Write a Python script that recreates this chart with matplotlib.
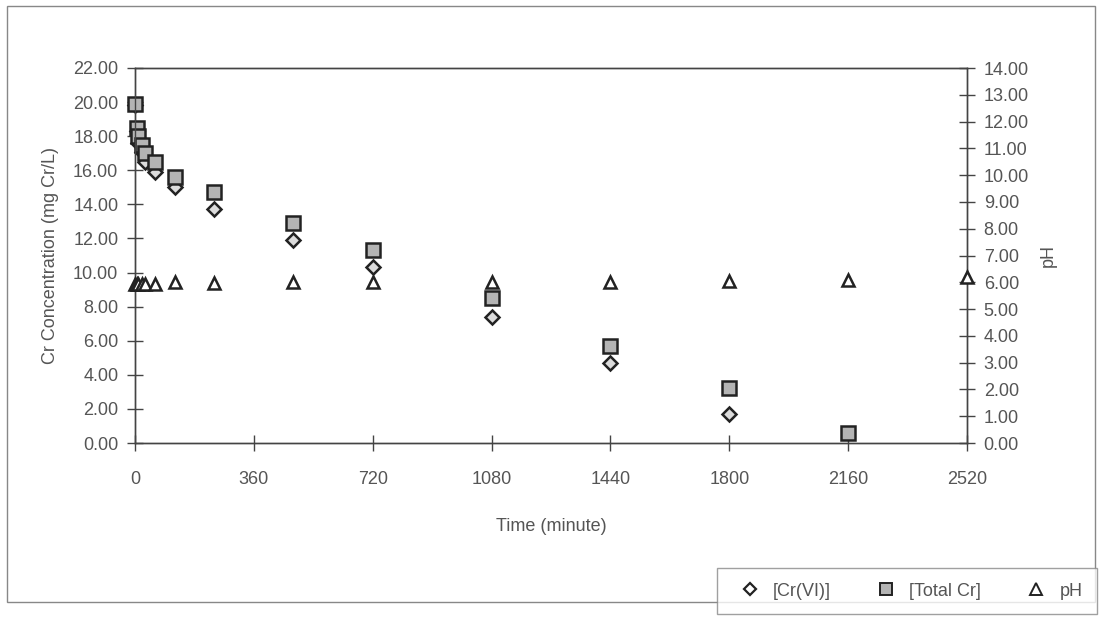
import matplotlib
matplotlib.use("Agg")
import matplotlib.pyplot as plt
from matplotlib.patches import Rectangle
from matplotlib.lines import Line2D

plt.rcParams['font.family'] = ['Liberation Sans', 'DejaVu Sans']

# Sampling times (minutes)
time_min = [0, 5, 10, 20, 30, 60, 120, 240, 480, 720, 1080, 1440, 1800, 2160]
# Hexavalent chromium (mg Cr/L)
cr6 = [19.8, 18.3, 17.6, 17.1, 16.5, 15.9, 15.0, 13.7, 11.9, 10.3, 7.4, 4.7, 1.7, None]
# Total chromium (mg Cr/L)
total_cr = [19.9, 18.5, 18.0, 17.5, 17.0, 16.5, 15.6, 14.7, 12.9, 11.3, 8.5, 5.7, 3.2, 0.6]
# pH readings
ph_time = [0, 5, 10, 20, 30, 60, 120, 240, 480, 720, 1080, 1440, 1800, 2160, 2520]
ph = [5.95, 5.95, 5.95, 5.95, 5.95, 5.95, 6.0, 5.98, 6.0, 6.0, 6.02, 6.02, 6.04, 6.08, 6.2]

x_ticks = [0, 360, 720, 1080, 1440, 1800, 2160, 2520]
left_ticks = [0, 2, 4, 6, 8, 10, 12, 14, 16, 18, 20, 22]
right_ticks = list(range(0, 15))

txt = '#555555'
ink = '#222222'
fs = 13

fig = plt.figure(figsize=(11, 6.17), dpi=100)
fig.patch.set_facecolor('white')

# outer frame
fig.patches.append(Rectangle((7/1100, 1-602/617), 1088/1100, 596/617,
                             transform=fig.transFigure, fill=False,
                             edgecolor='#888888', linewidth=1.0))

ax = fig.add_axes([135/1100, 1-443/617, (967-135)/1100, (443-68)/617])
ax2 = ax.twinx()

ax.set_xlim(0, 2520)
ax.set_ylim(0, 22)
ax2.set_ylim(0, 14)

cr6_t = [t for t, v in zip(time_min, cr6) if v is not None]
cr6_v = [v for v in cr6 if v is not None]

ax.plot(cr6_t, cr6_v, linestyle='none', marker='D', markersize=7.5,
        markerfacecolor='#dcdcdc', markeredgecolor=ink, markeredgewidth=1.8, zorder=3, clip_on=False)
ax.plot(time_min, total_cr, linestyle='none', marker='s', markersize=9.5,
        markerfacecolor='#b4b4b4', markeredgecolor=ink, markeredgewidth=1.8, zorder=4, clip_on=False)
ax2.plot(ph_time, ph, linestyle='none', marker='^', markersize=9,
         markerfacecolor='white', markeredgecolor=ink, markeredgewidth=1.8, zorder=5, clip_on=False)

for a in (ax, ax2):
    for s in a.spines.values():
        s.set_color('#444444')
        s.set_linewidth(1.0)

ax.set_xticks(x_ticks)
ax.set_xticklabels([str(v) for v in x_ticks])
ax.set_yticks(left_ticks)
ax.set_yticklabels([f"{v:.2f}" for v in left_ticks])
ax2.set_yticks(right_ticks)
ax2.set_yticklabels([f"{v:.2f}" for v in right_ticks])

ax.tick_params(axis='x', direction='inout', length=12, width=1.0, color='#444444',
               labelsize=fs, labelcolor=txt, pad=14)
ax.tick_params(axis='y', direction='inout', length=12, width=1.0, color='#444444',
               labelsize=fs, labelcolor=txt, pad=6)
ax2.tick_params(axis='y', direction='inout', length=12, width=1.0, color='#444444',
                labelsize=fs, labelcolor=txt, pad=6)

ax.set_xlabel('Time (minute)', fontsize=fs, color=txt, labelpad=22)
ax.set_ylabel('Cr Concentration (mg Cr/L)', fontsize=fs, color=txt, labelpad=10)
ax2.set_ylabel('pH', fontsize=fs, color=txt, labelpad=8)

handles = [
    Line2D([], [], linestyle='none', marker='D', markersize=6, markerfacecolor='white',
           markeredgecolor=ink, markeredgewidth=1.6),
    Line2D([], [], linestyle='none', marker='s', markersize=8, markerfacecolor='#b4b4b4',
           markeredgecolor=ink, markeredgewidth=1.4),
    Line2D([], [], linestyle='none', marker='^', markersize=8, markerfacecolor='white',
           markeredgecolor=ink, markeredgewidth=1.4),
]
leg = fig.legend(handles, ['[Cr(VI)]', '[Total Cr]', 'pH'], ncol=3,
                 loc='lower left', bbox_to_anchor=(717/1100, 1-614/617, 380/1100, 49/617),
                 mode='expand', borderaxespad=0, frameon=True, fancybox=False, fontsize=fs,
                 handletextpad=0.3, columnspacing=3.5, borderpad=0.8,
                 labelcolor=txt)
leg.get_frame().set_edgecolor('#888888')
leg.get_frame().set_linewidth(1.0)

fig.savefig('out.png', dpi=100, facecolor='white')
